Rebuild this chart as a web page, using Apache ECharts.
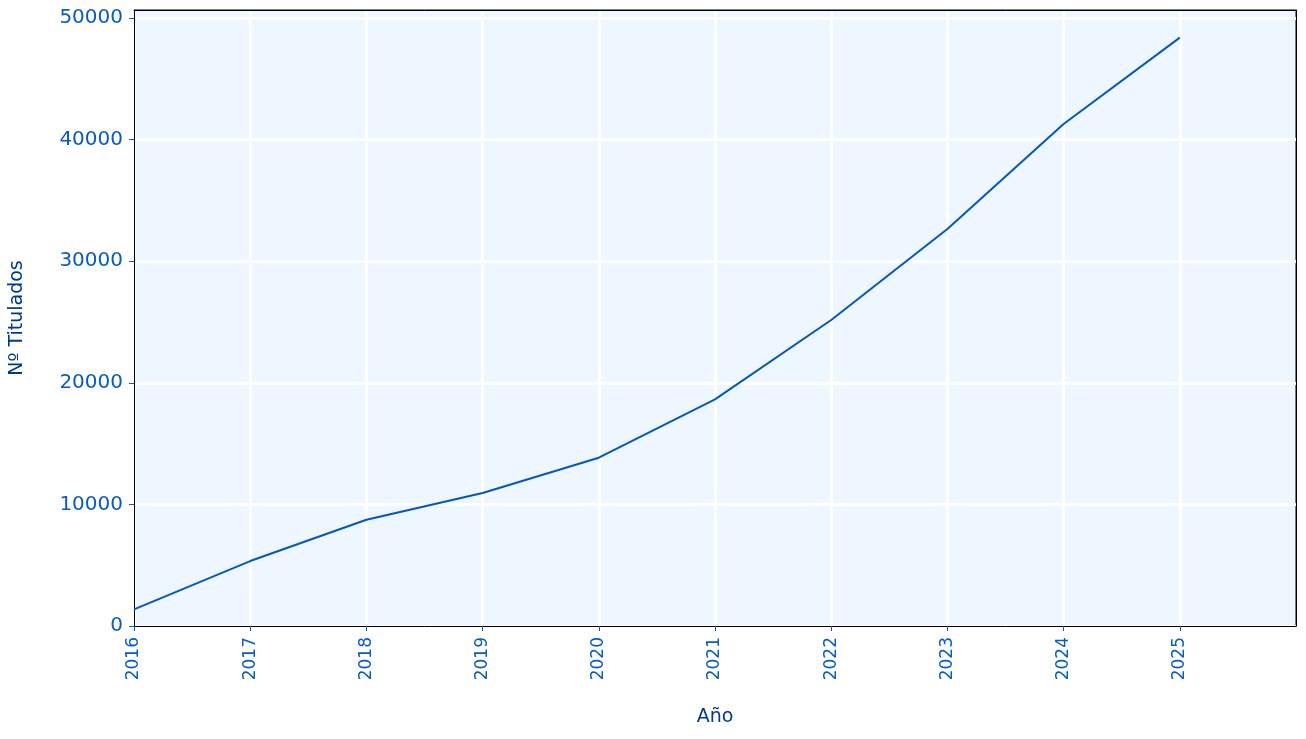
<!DOCTYPE html>
<html>
<head>
<meta charset="utf-8">
<script src="https://cdn.jsdelivr.net/npm/echarts@6/dist/echarts.min.js"></script>
<style>html,body{margin:0;padding:0;background:#fff}#c{width:1306px;height:739px}</style>
</head>
<body>
<div id="c"></div>
<script>
const years = [2016, 2017, 2018, 2019, 2020, 2021, 2022, 2023, 2024, 2025];
const titulados = [1370, 5340, 8740, 10940, 13840, 18640, 25160, 32650, 41280, 48380];
const yTicks = [0, 10000, 20000, 30000, 40000, 50000];
const xTicks = years;

const chart = echarts.init(document.getElementById('c'), null, {renderer: 'canvas'});
const labelColor = '#0A5CBD';
const titleColor = '#003A8C';
const frameAxis = (extra) => Object.assign({
  type: 'value', show: true,
  axisLine: {show: true, onZero: false, lineStyle: {color: '#000', width: 1}},
  axisTick: {show: false}, axisLabel: {show: false}, splitLine: {show: false}
}, extra);
chart.setOption({
  animation: false,
  backgroundColor: '#ffffff',
  grid: {
    left: 134, right: 10, top: 10, bottom: 113,
    show: true, backgroundColor: '#EEF6FF', borderColor: '#000', borderWidth: 1
  },
  xAxis: [{
    type: 'value', min: 2016, max: 2026, interval: 1,
    name: 'Año', nameLocation: 'middle', nameGap: 82,
    nameTextStyle: {color: titleColor, fontSize: 19, fontFamily: 'DejaVu Sans'},
    axisLine: {show: true, lineStyle: {color: '#000', width: 1}},
    axisTick: {show: true, length: 5, lineStyle: {color: labelColor}, customValues: xTicks},
    axisLabel: {
      rotate: 90, color: labelColor, fontSize: 17, fontFamily: 'DejaVu Sans', margin: 11,
      customValues: xTicks,
      formatter: v => xTicks.indexOf(v) >= 0 ? String(v) : ''
    },
    splitLine: {show: true, lineStyle: {color: '#ffffff', width: 3}}
  }, frameAxis({position: 'top', min: 2016, max: 2026})],
  yAxis: [{
    type: 'value', min: 0, max: 50650, interval: 10000,
    name: 'Nº Titulados', nameLocation: 'middle', nameGap: 107,
    nameTextStyle: {color: titleColor, fontSize: 19, fontFamily: 'DejaVu Sans'},
    axisLine: {show: true, lineStyle: {color: '#000', width: 1}},
    axisTick: {show: true, length: 5, lineStyle: {color: labelColor}, customValues: yTicks},
    axisLabel: {
      color: labelColor, fontSize: 20, fontFamily: 'DejaVu Sans', margin: 11,
      customValues: yTicks,
      formatter: v => yTicks.indexOf(v) >= 0 ? String(v) : ''
    },
    splitLine: {show: true, lineStyle: {color: '#ffffff', width: 3}}
  }, frameAxis({position: 'right', min: 0, max: 50650})],
  series: [{
    type: 'line',
    xAxisIndex: 0, yAxisIndex: 0,
    data: years.map((y, i) => [y, titulados[i]]),
    showSymbol: false,
    lineStyle: {color: '#0558B8', width: 2},
    itemStyle: {color: '#0558B8'}
  }]
});
</script>
</body>
</html>
